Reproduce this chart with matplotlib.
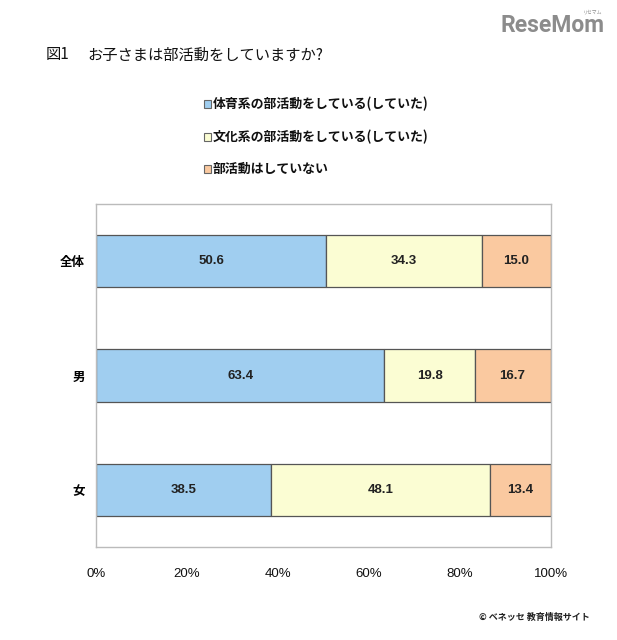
import matplotlib
matplotlib.use("Agg")
import matplotlib.pyplot as plt
from matplotlib.patches import Rectangle

plt.rcParams['font.family'] = ['Noto Sans CJK JP', 'DejaVu Sans']

categories = ['全体', '男', '女']
series_names = ['体育系の部活動をしている(していた)', '文化系の部活動をしている(していた)', '部活動はしていない']
sports = [50.6, 63.4, 38.5]
culture = [34.3, 19.8, 48.1]
none_ = [15.0, 16.7, 13.4]
xticks = [0, 20, 40, 60, 80, 100]
xtick_labels = ['0%', '20%', '40%', '60%', '80%', '100%']

colors = ['#A0CEF0', '#FBFDD3', '#FAC9A0']
series = [sports, culture, none_]

fig = plt.figure(figsize=(6.17, 6.40), dpi=100)
ax = fig.add_axes([96/617, 1-547/640, (551-96)/617, (547-204)/640])

ypos = list(range(len(categories)))
left = [0.0]*len(categories)
for vals, col in zip(series, colors):
    ax.barh(ypos, vals, left=left, height=0.455, color=col, edgecolor='#555555', linewidth=0.9)
    for y, v, l in zip(ypos, vals, left):
        ax.text(l + v/2, y, f'{v:.1f}', ha='center', va='center', fontsize=9.5,
                fontweight='bold', color='#222222', family=['Liberation Sans', 'DejaVu Sans'])
    left = [a+b for a, b in zip(left, vals)]

ax.set_xlim(0, 100)
ax.set_ylim(2.5, -0.5)
ax.set_yticks(ypos)
ax.set_yticklabels(categories, fontsize=9, fontweight='bold')
ax.set_xticks(xticks)
ax.set_xticklabels(xtick_labels, fontsize=9.5, family=['Liberation Sans', 'DejaVu Sans'], color='#111111')
ax.tick_params(length=0, pad=8)
ax.tick_params(axis='x', pad=15)
for s in ax.spines.values():
    s.set_color('#BBBBBB')
    s.set_linewidth(1.0)

# title
fig.text(46/617, 1-55/640, '図1', fontsize=11, va='center', ha='left', color='#111111')
fig.text(87/617, 1-55/640, 'お子さまは部活動をしていますか?', fontsize=11, va='center', ha='left', color='#111111')

# legend
leg_y = [104, 137, 169]
for name, col, yy in zip(series_names, colors, leg_y):
    fig.patches.append(Rectangle((204/617, 1-(yy+3.5)/640), 7/617, 7/640, transform=fig.transFigure,
                                 facecolor=col, edgecolor='#666666', linewidth=0.8))
    fig.text(213/617, 1-yy/640, name, fontsize=9.3, fontweight='bold', va='center', ha='left', color='#111111')

# logo
fig.text(604/617, 1-25/640, 'ReseMom', fontsize=16.5, fontweight='bold', color='#8C8C8C',
         ha='right', va='center', family=['Roboto', 'DejaVu Sans'])
fig.text(602/617, 1-12/640, 'リセマム', fontsize=3.5, color='#8C8C8C', ha='right', va='center')

# footer
fig.text(590/617, 1-617/640, '© ベネッセ 教育情報サイト', fontsize=6.5, fontweight='bold', color='#222222',
         ha='right', va='center')

fig.savefig('out.png', dpi=100, facecolor='white')
